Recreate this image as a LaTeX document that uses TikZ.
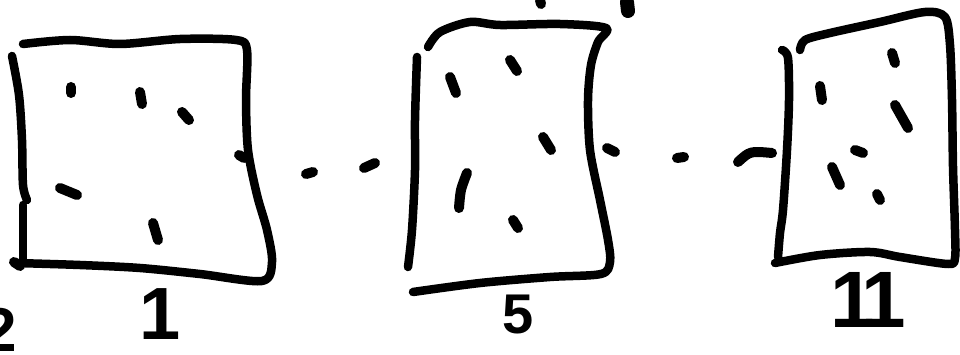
\documentclass[tikz,border=0pt]{standalone}
\usepackage{fontspec}
\setmainfont{Liberation Sans}
\begin{document}
\begin{tikzpicture}[x=1pt,y=-1pt,
  ink/.style={line width=8.5pt,line cap=round,line join=round},
  spot/.style={line width=10pt,line cap=round},
  hand/.style={inner sep=0pt,font=\bfseries\fontsize{#1}{#1}\selectfont}]
\clip (0,0) rectangle (960,355);
\fill[white] (0,0) rectangle (960,355);
% ---- sheet 1
\draw[ink] plot[smooth,tension=0.5] coordinates {(23,44) (70,40) (120,44) (180,39) (236,40) (247,50) (246,100) (248,150) (257,195) (267,230) (272,262) (262,281) (200,274) (140,268) (80,265) (16,263)};
\draw[ink] plot[smooth] coordinates {(12,56) (19,95) (22,140) (23,185) (27,200)};
\draw[ink] (23,205) -- (23,262);
\draw[spot] (14,262) -- (20,266);
\foreach \a/\b in {{(71,87)}/{(71,93)},{(140,92)}/{(142,104)},{(182,112)}/{(189,120)},{(239,155)}/{(244,158)},{(60,188)}/{(77,195)},{(153,223)}/{(158,240)}}
  \draw[spot] \a -- \b;
% ---- gaps
\draw[spot] (306,174) -- (313,172);
\draw[spot] (364,168) -- (375,163);
\draw[spot] (677,158) -- (684,157);
\draw[spot] (738,162) .. controls (750,151) .. (772,153);
% ---- sheet 5
\draw[ink] plot[smooth,tension=0.5] coordinates {(428,47) (440,32) (470,22) (500,25) (560,24) (606,28) (598,42) (591,65) (588,100) (590,150) (600,200) (608,240) (610,262) (601,274) (550,277) (480,283) (413,292)};
\draw[ink] plot[smooth] coordinates {(417,57) (415,120) (415,170) (412,230) (408,267)};
\foreach \a/\b in {{(450,77)}/{(456,93)},{(510,60)}/{(517,71)},{(543,137)}/{(551,150)},{(513,220)}/{(518,228)},{(607,148)}/{(615,152)},{(540,0)}/{(541,4)}}
  \draw[spot] \a -- \b;
\draw[spot] plot[smooth] coordinates {(467,173) (461,190) (459,208)};
\draw[line width=14pt,line cap=round] (627,2) -- (628,11);
% ---- sheet 11
\draw[ink] plot[smooth,tension=0.5] coordinates {(800,50) (805,40) (830,33) (880,22) (925,12) (945,17) (950,45) (952,100) (953,167) (955,230) (955,258) (948,264) (900,257) (870,252) (820,255) (775,263)};
\draw[ink] plot[smooth] coordinates {(782,50) (788,58) (789,100) (787,150) (783,210) (780,233) (778,257)};
\foreach \a/\b in {{(892,53)}/{(895,63)},{(820,86)}/{(822,100)},{(895,105)}/{(908,128)},{(855,150)}/{(863,153)},{(832,167)}/{(840,185)},{(877,194)}/{(880,200)}}
  \draw[spot] \a -- \b;
% ---- labels
\node[hand=74] (l1) at (160,314) {1};
\node[hand=56] (l5) at (518,315) {5};
\node[hand=80] (l11) at (868,300) {1\kern-14pt1};
\node[hand=62,anchor=east] (l2) at (17,330) {2};
\end{tikzpicture}
\end{document}
